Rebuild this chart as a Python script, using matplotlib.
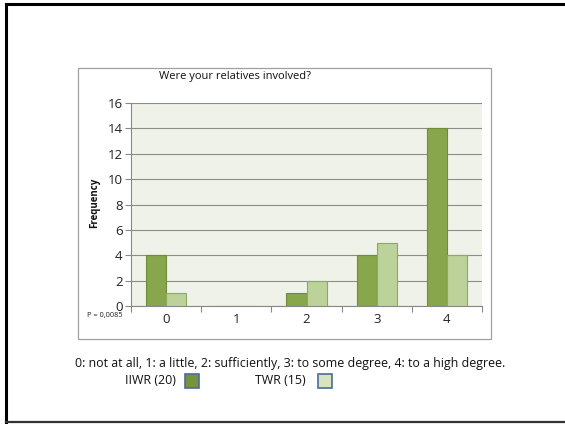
import matplotlib
matplotlib.use("Agg")
import matplotlib.pyplot as plt
from matplotlib.patches import Rectangle
from matplotlib.lines import Line2D
import numpy as np

categories = ["0", "1", "2", "3", "4"]
iiwr = [4, 0, 1, 4, 14]
twr = [1, 0, 2, 5, 4]
yticks = [0, 2, 4, 6, 8, 10, 12, 14, 16]
title = "Were your relatives involved?"
caption = "0: not at all, 1: a little, 2: sufficiently, 3: to some degree, 4: to a high degree."
legend_labels = ["IIWR (20)", "TWR (15)"]

plt.rcParams['font.family'] = ['Open Sans', 'DejaVu Sans']

W, H = 565, 424
fig = plt.figure(figsize=(W / 100, H / 100), dpi=100)

def fx(px):
    return px / W

def fy(py):
    return 1 - py / H

# slide border (right edge is outside the picture)
for xs, ys, lw, c in [((fx(6), 1.05), (fy(4), fy(4)), 2.2, 'black'),
                      ((fx(6), fx(6)), (fy(4), fy(422)), 2.2, 'black'),
                      ((fx(6), 1.05), (fy(422), fy(422)), 1.6, '#333333')]:
    fig.add_artist(Line2D(xs, ys, transform=fig.transFigure, color=c, linewidth=lw))

# chart frame
fig.patches.append(Rectangle((fx(78), fy(339)), fx(491) - fx(78), fy(68) - fy(339),
                             transform=fig.transFigure, fill=False, edgecolor='#a0a0a0', linewidth=0.9))

ax = fig.add_axes([fx(131), fy(306), fx(482) - fx(131), fy(103) - fy(306)])
ax.set_facecolor('#eef2e8')
x = np.arange(len(categories))
bw = 0.285
ax.bar(x - bw / 2, iiwr, bw, color='#88a64c', edgecolor='#6f8c36', linewidth=0.8, zorder=3)
ax.bar(x + bw / 2, twr, bw, color='#bcd29a', edgecolor='#8aac58', linewidth=0.8, zorder=3)

ax.set_xlim(-0.5, len(categories) - 0.5)
ax.set_ylim(0, 16)
ax.set_yticks(yticks)
ax.set_yticklabels([str(v) for v in yticks], fontsize=9.5, color='#222222')
ax.set_xticks(x)
ax.set_xticklabels(categories, fontsize=9.5, color='#222222')
ax.tick_params(axis='x', which='major', length=0, pad=5)
ax.set_xticks(np.arange(-0.5, len(categories), 1.0), minor=True)
ax.tick_params(axis='x', which='minor', length=4, color='#888888', width=0.8)
ax.tick_params(axis='y', length=4, color='#888888', width=0.8, pad=2)
ax.grid(axis='y', color='#8c8c8c', linewidth=0.8, zorder=1)
for s in ['top', 'right']:
    ax.spines[s].set_visible(False)
ax.spines['left'].set_color('#888888')
ax.spines['bottom'].set_color('#888888')
ax.spines['left'].set_linewidth(0.8)
ax.spines['bottom'].set_linewidth(0.8)

fig.text(fx(235), fy(77), title, fontsize=8, ha='center', va='center', color='#111111')
fig.text(fx(95), fy(203), "Frequency", fontsize=7, fontweight='bold', rotation=90,
         ha='center', va='center', color='#111111')
fig.text(fx(105), fy(316), "P = 0,0085", fontsize=5.3, ha='center', va='center', color='#222222')

fig.text(fx(290), fy(364), caption, fontsize=8.9, ha='center', va='center', color='#111111')
fig.text(fx(150), fy(381), legend_labels[0], fontsize=8.9, ha='center', va='center', color='#111111')
fig.text(fx(280), fy(381), legend_labels[1], fontsize=8.9, ha='center', va='center', color='#111111')
fig.patches.append(Rectangle((fx(185), fy(388)), fx(14), fy(374) - fy(388), transform=fig.transFigure,
                             facecolor='#77933c', edgecolor='#4a6c9b', linewidth=1.2))
fig.patches.append(Rectangle((fx(318), fy(388)), fx(14), fy(374) - fy(388), transform=fig.transFigure,
                             facecolor='#d7e4bd', edgecolor='#4a6c9b', linewidth=1.2))

fig.savefig("out.png", dpi=100)
